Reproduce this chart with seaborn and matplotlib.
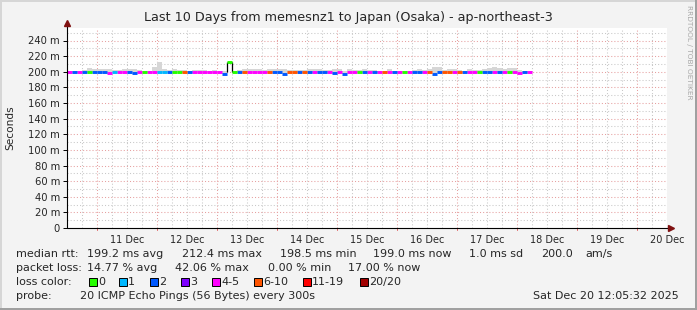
import numpy as np
import pandas as pd
import matplotlib
matplotlib.use("Agg")
import matplotlib.pyplot as plt
from matplotlib.patches import Rectangle
import seaborn as sns

# ---------------- data ----------------
# 2-hour bins starting at Dec 10 12:05 (x in days since Dec 10 00:00)
start_day = 0.5035
bin_days = 1 / 12

loss_codes = (
    "M B M B G B B B M L M M B B M G "
    "M M L L B G G O B M M M M M M B "
    "G G B O M M M M O B B B O O B O "
    "B M B B M B M B M M G B M B M O "
    "M B M G M B B M O B B O O M O B "
    "M M G B B M B M G M M B M"
).split()

median_ms = (
    [199.5] * 8 + [198.0] + [199.5] * 4 + [197.8] + [199.5] * 2
    + [199.5] * 15 + [197.6]
    + [213.0] + [199.5] * 10 + [197.3] + [199.5] * 4
    + [199.5] * 5 + [198.0] + [199.5] + [197.6] + [199.5] * 8
    + [199.5] * 9 + [197.6] + [199.5] * 6
    + [199.5] * 10 + [197.8] + [199.5] * 2
)

smoke_top_ms = [
    201, 201, 201, 202, 205, 203, 204, 204, 203, 202, 202, 204, 204, 203, 202, 201,
    201, 206, 212, 203, 202, 204, 202, 202, 201, 202, 202, 202, 201, 202, 201, 201,
    213, 201, 202, 203, 203, 204, 203, 202, 203, 204, 203, 203, 202, 202, 202, 202,
    203, 203, 203, 202, 202, 203, 203, 201, 203, 202, 202, 203, 202, 202, 201, 201,
    203, 201, 201, 201, 201, 202, 203, 202, 203, 206, 206, 202, 203, 203, 202, 201,
    204, 202, 202, 203, 205, 206, 205, 203, 205, 205, 202, 201, 201,
]

loss_labels = ["0", "1", "2", "3", "4-5", "6-10", "11-19", "20/20"]
loss_colors = ["#26ff00", "#00b8ff", "#0059ff", "#7e00ff",
               "#ff00ff", "#ff5500", "#ff0000", "#a10000"]
code_to_label = {"G": "0", "L": "1", "B": "2", "P": "3",
                 "M": "4-5", "O": "6-10", "R": "11-19", "D": "20/20"}

y_tick_values = list(range(0, 241, 20))
y_tick_labels = ["0"] + [f"{v} m" for v in y_tick_values[1:]]
day_labels = ["11 Dec", "12 Dec", "13 Dec", "14 Dec", "15 Dec",
              "16 Dec", "17 Dec", "18 Dec", "19 Dec", "20 Dec"]

stats_rows = [
    ("median rtt:", [(87, "199.2 ms avg"), (182, "212.4 ms max"), (280, "198.5 ms min"),
                     (373, "199.0 ms now"), (469, "1.0 ms sd"), (541, "200.0"), (585, "am/s")]),
    ("packet loss:", [(87, "14.77 % avg"), (175, "42.06 % max"), (268, "0.00 % min"),
                      (348, "17.00 % now")]),
]
probe_text = "20 ICMP Echo Pings (56 Bytes) every 300s"
stamp_text = "Sat Dec 20 12:05:32 2025"
title_text = "Last 10 Days from memesnz1 to Japan (Osaka) - ap-northeast-3"

# ---------------- build frame ----------------
n = len(loss_codes)
starts = start_day + np.arange(n) * bin_days
ends = starts + bin_days
rows = []
for i in range(n):
    lab = code_to_label[loss_codes[i]]
    rows.append({"x": starts[i], "y": median_ms[i], "seg": i, "loss": lab})
    rows.append({"x": ends[i], "y": median_ms[i], "seg": i, "loss": lab})
df = pd.DataFrame(rows)

# ---------------- figure ----------------
W, H = 697, 310
sns.set_style("white")
plt.rcParams["font.family"] = ["DejaVu Sans"]
fig = plt.figure(figsize=(W / 100, H / 100), dpi=100)
fig.patch.set_facecolor("#f3f3f3")

L, R, T, B = 67, 667, 28, 228
ax = fig.add_axes([L / W, 1 - B / H, (R - L) / W, (B - T) / H])
ax.set_facecolor("white")
ax.set_xlim(start_day, start_day + 10)
ax.set_ylim(0, 256)

dot = (0, (1, 2))
# grid
for d in np.arange(0.75, 10.6, 0.25):
    if abs(d - round(d)) > 1e-6:
        ax.axvline(d, color="#c8c8c8", lw=0.75, ls=dot, zorder=0)
for d in range(1, 11):
    ax.axvline(d, color="#e6a0a0", lw=0.75, ls=dot, zorder=0)
for v in range(10, 256, 20):
    ax.axhline(v, color="#c8c8c8", lw=0.75, ls=dot, zorder=0)
for v in range(20, 256, 20):
    ax.axhline(v, color="#e6a0a0", lw=0.75, ls=dot, zorder=0)

# smoke
ax.bar(starts, np.array(smoke_top_ms) - np.array(median_ms) + 0.5,
       bottom=np.array(median_ms) - 0.5, width=bin_days, align="edge",
       color="#d6d6d6", linewidth=0, zorder=2)

# spike connectors
base = np.median(median_ms)
for i in range(n):
    if median_ms[i] - base > 5:
        ax.vlines([starts[i], ends[i]], base, median_ms[i], color="black", lw=0.9, zorder=3)

palette = dict(zip(loss_labels, loss_colors))
sns.lineplot(data=df, x="x", y="y", hue="loss", units="seg", estimator=None,
             palette=palette, linewidth=2.1, legend=False, ax=ax, zorder=4,
             solid_capstyle="butt")

ax.set_xlabel("")
ax.set_ylabel("")
for s in ["top", "right", "left", "bottom"]:
    ax.spines[s].set_visible(False)

# axes lines with arrows
ax.plot([start_day, start_day], [0, 256 + 4], color="black", lw=0.8, clip_on=False, zorder=5)
ax.plot([start_day, start_day + 10.05], [0, 0], color="black", lw=0.8, clip_on=False, zorder=5)
ax.plot([start_day], [256 + 6], marker="^", color="#7f1010", ms=4, clip_on=False, zorder=6)
ax.plot([start_day + 10.07], [0], marker=">", color="#7f1010", ms=4, clip_on=False, zorder=6)

ax.set_yticks(y_tick_values)
ax.set_yticklabels(y_tick_labels, fontsize=7.2)
ax.set_xticks([d + 0.5 for d in range(1, 11)])
ax.set_xticklabels(day_labels, fontsize=7.0)
ax.tick_params(axis="y", length=3, width=0.7, color="black", pad=2, left=True)
ax.tick_params(axis="x", length=0, pad=5)

# red tick marks at midnight below axis
for d in range(1, 11):
    ax.plot([d, d], [0, -3], color="#e06060", lw=0.7, clip_on=False, zorder=1)

fig.text(10 / W, 1 - 128 / H, "Seconds", rotation=90, fontsize=7.6, ha="center", va="center")

def ftext(x, y, s, **kw):
    kw.setdefault("fontsize", 8.0)
    kw.setdefault("va", "center")
    fig.text(x / W, 1 - y / H, s, **kw)

ftext(348, 18, title_text, fontsize=9.2, ha="center")
ftext(689, 52, "RRDTOOL / TOBI OETIKER", fontsize=5.3, rotation=270, color="#a8a8a8", ha="center")

ys = [254, 268]
for (label, items), y in zip(stats_rows, ys):
    ftext(16, y, label)
    for x, s in items:
        ftext(x, y, s)

ftext(16, 282, "loss color:")
sw_x = [89, 119, 150, 181, 212, 254, 303, 360]
for x, lab, col in zip(sw_x, loss_labels, loss_colors):
    fig.patches.append(Rectangle((x / W, 1 - 286 / H), 8 / W, 8 / H, transform=fig.transFigure,
                                 facecolor=col, edgecolor="black", lw=0.7, figure=fig))
    ftext(x + 9, 282, lab)

ftext(16, 296, "probe:")
ftext(80, 296, probe_text)
ftext(533, 296, stamp_text)

# frame
fig.patches.append(Rectangle((0, 0), 2 / W, 1, transform=fig.transFigure, facecolor="#d6d6d6", lw=0, figure=fig))
fig.patches.append(Rectangle((0, 1 - 2 / H), 1, 2 / H, transform=fig.transFigure, facecolor="#d6d6d6", lw=0, figure=fig))
fig.patches.append(Rectangle((1 - 2 / W, 0), 2 / W, 1, transform=fig.transFigure, facecolor="#a0a0a0", lw=0, figure=fig))
fig.patches.append(Rectangle((0, 0), 1, 2 / H, transform=fig.transFigure, facecolor="#a0a0a0", lw=0, figure=fig))

fig.savefig("out.png", dpi=100, facecolor=fig.get_facecolor())
